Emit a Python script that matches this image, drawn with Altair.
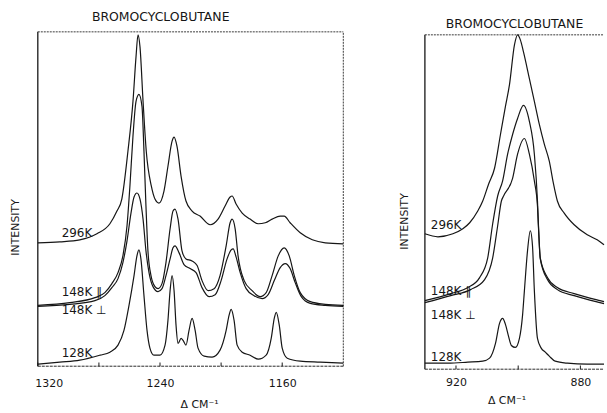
import altair as alt
import pandas as pd

TITLE = "BROMOCYCLOBUTANE"
X_TITLE = "Δ  CM⁻¹"
Y_TITLE = "INTENSITY"
FONT = "DejaVu Sans"
INK = "#161616"

# ---------------- left panel: 1320-1120 cm-1 ----------------
left_ticks = [1320, 1280, 1240, 1200, 1160]
left_tick_labels = [1320, 1240, 1160]

l296_cm = [1320, 1305.6, 1292.5, 1281.3, 1272.8, 1268.2, 1265.0, 1261.0, 1257.7, 1255.7,
           1254.4, 1253.1, 1251.1, 1249.0, 1245.7, 1243.3, 1240.7, 1237.4, 1234.8, 1232.1,
           1230.8, 1228.9, 1226.2, 1223.0, 1219.0, 1213.8, 1207.2, 1202.0, 1197.4, 1194.1,
           1192.8, 1190.2, 1186.2, 1181.0, 1175.7, 1171.1, 1166.6, 1161.3, 1158.7, 1154.8,
           1148.2, 1140.3, 1131.8, 1120]
l296_int = [36.9, 37.2, 37.8, 39.6, 42.6, 46.4, 50.0, 64.3, 79.2, 92.6,
            99.1, 95.5, 79.2, 64.3, 53.9, 50.0, 48.8, 52.4, 59.8, 67.3,
            68.5, 65.8, 56.8, 49.4, 46.4, 44.9, 42.3, 44.0, 47.9, 50.6,
            50.9, 48.5, 45.8, 44.0, 42.6, 42.9, 44.0, 44.9, 44.9, 42.9,
            39.9, 37.8, 36.9, 36.6]

l148p_cm = [1320, 1299.0, 1282.6, 1276.1, 1271.5, 1267.5, 1264.3, 1261.6, 1259.7, 1257.7,
            1255.7, 1253.8, 1251.8, 1250.5, 1249.2, 1247.9, 1245.9, 1243.3, 1241.3, 1238.7,
            1236.1, 1233.4, 1231.5, 1230.2, 1228.2, 1225.6, 1223.0, 1219.0, 1215.7, 1212.5,
            1208.5, 1204.6, 1200.7, 1196.7, 1194.1, 1192.8, 1190.8, 1188.9, 1184.9, 1179.7,
            1174.4, 1170.5, 1166.6, 1162.6, 1158.7, 1155.4, 1152.1, 1148.2, 1141.6, 1131.8,
            1120]
l148p_int = [18.2, 19.0, 20.5, 22.0, 24.7, 28.0, 33.0, 42.0, 53.9, 68.8,
             79.2, 81.3, 77.7, 64.3, 47.9, 34.5, 27.1, 23.8, 23.2, 24.7,
             31.0, 41.1, 46.4, 47.0, 44.0, 34.5, 32.1, 31.5, 30.1, 25.6,
             22.6, 23.2, 27.1, 36.0, 42.9, 44.0, 41.1, 33.0, 25.6, 22.6,
             20.8, 22.0, 27.1, 33.0, 35.4, 33.0, 27.1, 22.0, 19.3, 18.5,
             18.2]

l148s_cm = [1320, 1299.0, 1282.6, 1276.1, 1271.5, 1267.5, 1264.3, 1261.6, 1259.0, 1257.0,
            1255.1, 1253.1, 1251.1, 1249.2, 1247.2, 1244.6, 1241.3, 1238.7, 1236.1, 1233.4,
            1231.5, 1230.2, 1227.5, 1224.3, 1220.3, 1216.4, 1212.5, 1207.9, 1203.9, 1200.0,
            1196.1, 1193.4, 1192.1, 1190.2, 1187.5, 1183.6, 1178.4, 1173.1, 1169.2, 1165.2,
            1161.3, 1158.0, 1154.8, 1151.5, 1147.5, 1141.6, 1131.8, 1120]
l148s_int = [17.9, 18.5, 19.6, 21.1, 23.5, 26.2, 31.0, 37.5, 45.8, 50.6,
             51.8, 50.0, 44.0, 34.5, 28.0, 23.8, 22.3, 23.2, 27.1, 32.1,
             35.4, 36.0, 33.9, 30.4, 29.2, 28.0, 23.5, 20.8, 21.4, 25.6,
             32.1, 34.8, 35.1, 32.7, 28.0, 23.2, 21.1, 20.2, 21.4, 25.6,
             29.5, 30.7, 29.2, 25.0, 20.8, 18.8, 18.2, 17.9]

l128_cm = [1320, 1305.6, 1292.5, 1279.3, 1272.8, 1267.5, 1263.6, 1260.3, 1257.0, 1255.1,
           1253.8, 1252.5, 1250.5, 1248.5, 1246.6, 1244.0, 1240.0, 1236.7, 1234.8, 1233.4,
           1232.1, 1230.8, 1229.5, 1228.2, 1226.2, 1224.9, 1223.0, 1221.0, 1219.0, 1217.0,
           1215.1, 1211.1, 1205.9, 1200.7, 1196.7, 1194.8, 1193.4, 1191.5, 1189.5, 1186.2,
           1181.0, 1175.7, 1170.5, 1167.2, 1165.2, 1163.9, 1161.9, 1160.0, 1156.7, 1148.2,
           1135.1, 1120]
l128_int = [0.6, 1.2, 1.8, 3.3, 4.2, 6.3, 10.7, 18.2, 27.1, 33.0,
            34.8, 32.1, 21.1, 10.7, 5.4, 3.3, 3.3, 6.3, 13.7, 22.6,
            27.1, 22.6, 12.2, 6.8, 8.3, 7.7, 6.3, 10.7, 14.3, 10.7,
            5.4, 3.0, 2.7, 4.8, 10.7, 15.2, 17.0, 13.7, 6.3, 4.2,
            3.3, 2.1, 3.3, 8.3, 14.3, 16.1, 12.2, 5.4, 2.4, 1.5,
            1.2, 0.9]

# ---------------- right panel: 930-872 cm-1 ----------------
right_ticks = [920, 900, 880]
right_tick_labels = [920, 880]

r296_cm = [930.0, 925.8, 921.0, 917.8, 915.6, 913.0, 911.4, 909.5, 907.6, 905.7,
           904.1, 902.8, 901.2, 900.2, 899.3, 898.3, 896.4, 894.8, 893.2, 891.6,
           890.0, 888.7, 887.4, 885.2, 882.0, 877.8, 874.6, 872.4]
r296_int = [40.5, 39.6, 40.5, 42.0, 43.8, 47.3, 50.3, 55.4, 60.1, 70.2,
            78.6, 85.1, 97.0, 100.0, 98.5, 94.9, 86.9, 80.1, 73.2, 67.3,
            62.2, 55.7, 50.3, 46.7, 43.2, 40.2, 38.7, 37.2]

r148p_cm = [930.0, 921.7, 916.2, 912.4, 909.8, 908.2, 906.6, 905.0, 903.4, 901.8,
            900.2, 898.3, 896.4, 894.8, 893.8, 893.5, 892.9, 890.6, 887.4, 882.0,
            873.7, 872.4]
r148p_int = [20.5, 22.6, 24.4, 27.4, 33.3, 43.5, 51.8, 56.3, 64.3, 70.2,
             75.0, 78.9, 74.1, 64.3, 50.3, 43.5, 33.3, 27.4, 24.4, 22.6,
             20.5, 20.2]

r148s_cm = [930.0, 921.7, 915.3, 910.8, 908.2, 906.6, 905.4, 904.7, 901.8, 900.2,
            898.0, 896.4, 894.8, 893.8, 893.5, 892.9, 890.6, 887.4, 882.0, 873.7,
            872.4]
r148s_int = [19.9, 22.0, 23.8, 26.8, 33.3, 42.9, 50.3, 51.8, 57.1, 64.3,
             69.0, 64.3, 56.3, 48.8, 42.9, 33.0, 26.8, 23.8, 22.0, 19.9,
             19.6]

r128_cm = [930.0, 922.6, 916.2, 911.4, 909.2, 907.3, 906.0, 905.0, 904.1, 903.1,
           902.2, 900.9, 899.6, 898.6, 898.0, 897.0, 896.1, 895.4, 894.8, 893.8,
           892.6, 891.3, 890.0, 888.1, 884.2, 877.8, 872.4]
r128_int = [1.8, 1.8, 2.1, 2.4, 3.3, 7.7, 13.7, 15.2, 13.4, 9.8,
            7.1, 6.5, 9.2, 16.1, 23.5, 35.4, 41.4, 36.9, 23.5, 9.2,
            6.3, 5.1, 3.9, 2.4, 1.8, 1.5, 1.5]

# trace labels: text, anchor wavenumber, anchor intensity
trace_names = ["296K", "148K ∥", "148K ⊥", "128K"]
left_label_cm = [1304.4, 1304.4, 1304.4, 1304.4]
left_label_int = [39.9, 22.3, 16.7, 3.9]
right_label_cm = [928.1, 928.1, 928.1, 928.1]
right_label_int = [43.2, 23.5, 16.1, 3.6]


def traces_frame(series):
    rows = []
    for name, cms, vals in series:
        for c, v in zip(cms, vals):
            rows.append({"trace": name, "cm": c, "intensity": v})
    return pd.DataFrame(rows)


def make_panel(series, ticks, tick_labels, label_cm, label_int, x_domain, y_top,
               width, height, y_title_xy, x_title_xy, title_dx, title_offset,
               label_pad, full_frame):
    spectra = traces_frame(series)
    label_expr = "indexof([%s], datum.value) >= 0 ? datum.label : ''" % ",".join(
        str(t) for t in tick_labels)

    x_enc = alt.X(
        "cm:Q",
        scale=alt.Scale(domain=x_domain, nice=False, zero=False),
        axis=alt.Axis(values=ticks, format="d", labelExpr=label_expr, ticks=False,
                      tickSize=0, domain=False, grid=False, labelPadding=label_pad,
                      labelFont=FONT, labelFontSize=11, labelColor=INK,
                      labelFlush=1, labelFlushOffset=3,
                      title=X_TITLE, titleX=x_title_xy[0], titleY=x_title_xy[1],
                      titleAlign="center", titleBaseline="middle", titleFont=FONT,
                      titleFontSize=11, titleFontWeight="normal", titleColor=INK),
    )
    y_enc = alt.Y(
        "intensity:Q",
        scale=alt.Scale(domain=[0, y_top], nice=False, zero=False),
        axis=alt.Axis(labels=False, ticks=False, domain=False, grid=False,
                      title=Y_TITLE, titleX=y_title_xy[0], titleY=y_title_xy[1],
                      titleAngle=270, titleAlign="center", titleBaseline="middle",
                      titleFont=FONT, titleFontSize=11, titleFontWeight="normal",
                      titleColor=INK),
    )

    lines = alt.Chart(spectra).mark_line(
        color=INK, strokeWidth=1.2, interpolate="monotone"
    ).encode(x=x_enc, y=y_enc, detail="trace:N")

    labels = alt.Chart(pd.DataFrame({
        "trace": trace_names, "cm": label_cm, "intensity": label_int,
    })).mark_text(align="left", baseline="middle", font=FONT, fontSize=12,
                  color=INK).encode(x="cm:Q", y="intensity:Q", text="trace:N")

    tick_marks = alt.Chart(pd.DataFrame({"cm": ticks})).mark_rule(
        color=INK, strokeWidth=1
    ).encode(x="cm:Q", y=alt.datum(0), y2=alt.datum(1.1))

    one = pd.DataFrame({"k": [0]})
    lo, hi = x_domain[0], x_domain[1]
    left_edge = alt.Chart(one).mark_rule(color=INK, strokeWidth=1.3).encode(
        x=alt.datum(lo), y=alt.datum(0), y2=alt.datum(100))
    bottom_edge = alt.Chart(one).mark_rule(color="#2a2a2a", strokeWidth=1,
                                           strokeDash=[3, 1]).encode(
        x=alt.datum(lo), x2=alt.datum(hi), y=alt.datum(0))
    top_edge = alt.Chart(one).mark_rule(color="#3a3a3a", strokeWidth=1,
                                        strokeDash=[2, 1]).encode(
        x=alt.datum(lo), x2=alt.datum(hi), y=alt.datum(100))
    layers = [left_edge, bottom_edge, top_edge, tick_marks, lines, labels]
    if full_frame:
        right_edge = alt.Chart(one).mark_rule(color="#3a3a3a", strokeWidth=1,
                                              strokeDash=[2, 1]).encode(
            x=alt.datum(hi), y=alt.datum(0), y2=alt.datum(100))
        layers.insert(3, right_edge)

    return alt.layer(*layers).properties(
        width=width, height=height,
        title=alt.TitleParams(TITLE, anchor="middle", dx=title_dx, offset=title_offset,
                              font=FONT, fontSize=12.5, fontWeight="normal",
                              color=INK),
    )


left = make_panel(
    [("296K", l296_cm, l296_int), ("148K ∥", l148p_cm, l148p_int),
     ("148K ⊥", l148s_cm, l148s_int), ("128K", l128_cm, l128_int)],
    left_ticks, left_tick_labels, left_label_cm, left_label_int,
    x_domain=[1320, 1120], y_top=100, width=307, height=336,
    y_title_xy=(-22, 196), x_title_xy=(162, 39), title_dx=-30, title_offset=8,
    label_pad=11, full_frame=True,
)

right = make_panel(
    [("296K", r296_cm, r296_int), ("148K ∥", r148p_cm, r148p_int),
     ("148K ⊥", r148s_cm, r148s_int), ("128K", r128_cm, r128_int)],
    right_ticks, right_tick_labels, right_label_cm, right_label_int,
    x_domain=[930, 872.4], y_top=100 * 339 / 336, width=180, height=339,
    y_title_xy=(-20, 190), x_title_xy=(82, 31), title_dx=0, title_offset=1,
    label_pad=7, full_frame=False,
)

chart = alt.hconcat(left, right, spacing=82, bounds="flush").properties(
    padding={"left": 10, "top": 9, "right": 0, "bottom": 0},
    background="white",
).configure_view(strokeWidth=0)

chart.save("out.html", embed_options={"renderer": "svg", "actions": False})
